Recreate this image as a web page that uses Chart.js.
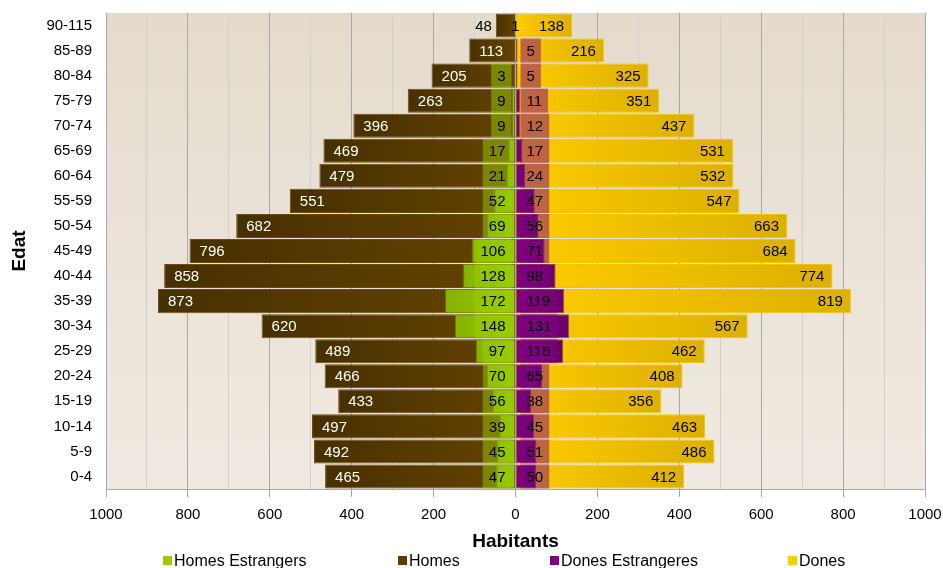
<!DOCTYPE html>
<html>
<head>
<meta charset="utf-8">
<script src="https://cdn.jsdelivr.net/npm/chart.js@4/dist/chart.umd.min.js"></script>
<style>
  html, body { margin: 0; padding: 0; background: #fff; }
  #wrap { width: 943px; height: 568px; }
</style>
</head>
<body>
<div id="wrap"><canvas id="pyramid" width="943" height="568"></canvas></div>
<script>
// grups d'edat, de dalt a baix
const ageGroups = ['90-115','85-89','80-84','75-79','70-74','65-69','60-64','55-59','50-54','45-49',
                   '40-44','35-39','30-34','25-29','20-24','15-19','10-14','5-9','0-4'];
const homes            = [48,113,205,263,396,469,479,551,682,796,858,873,620,489,466,433,497,492,465];
const homesEstrangers  = [1,0,3,9,9,17,21,52,69,106,128,172,148,97,70,56,39,45,47];
const donesEstrangeres = [0,5,5,11,12,17,24,47,56,71,98,119,131,116,65,38,45,51,50];
const dones            = [138,216,325,351,437,531,532,547,663,684,774,819,567,462,408,356,463,486,412];
const axisMax = 1000;
const axisStep = 100;

const FONT = 'Arial, "Liberation Sans", sans-serif';

function barGradient(light, dark) {
    return function(ctx) {
        const chart = ctx.chart;
        if (!chart.chartArea || ctx.type !== 'data' || !chart.scales.x) return light;
        const x = chart.scales.x;
        const x0 = x.getPixelForValue(0);
        const x1 = x.getPixelForValue(ctx.raw);
        if (Math.abs(x1 - x0) < 1) return light;
        const g = chart.ctx.createLinearGradient(x0, 0, x1, 0);
        g.addColorStop(0, light);
        g.addColorStop(1, dark);
        return g;
    };
}

const plotBackground = {
    id: 'plotBackground',
    beforeDraw(chart) {
        const { ctx, chartArea: a } = chart;
        const g = ctx.createLinearGradient(0, a.top, 0, a.bottom);
        g.addColorStop(0, '#e4dbcd');
        g.addColorStop(1, '#f0eae2');
        ctx.save();
        ctx.fillStyle = g;
        ctx.fillRect(a.left, a.top, a.right - a.left, a.bottom - a.top);
        ctx.restore();
    }
};

const barLabels = {
    id: 'barLabels',
    afterDatasetsDraw(chart) {
        const ctx = chart.ctx;
        const x = chart.scales.x, y = chart.scales.y;
        const zero = x.getPixelForValue(0);
        const bar = chart.getDatasetMeta(1).data[0];
        const h = bar ? bar.height : 23;
        ctx.save();
        ctx.font = '15px ' + FONT;
        ctx.textBaseline = 'middle';
        ageGroups.forEach((g, i) => {
            const cy = y.getPixelForValue(i);
            // homes
            const hEnd = x.getPixelForValue(-homes[i]);
            if (zero - hEnd > 40) {
                ctx.fillStyle = '#ffffff';
                ctx.textAlign = 'left';
                ctx.fillText(homes[i], hEnd + 10, cy + 1);
            } else {
                ctx.fillStyle = '#000000';
                ctx.textAlign = 'right';
                ctx.fillText(homes[i], hEnd - 4, cy + 1);
            }
            // dones
            const dEnd = x.getPixelForValue(dones[i]);
            ctx.fillStyle = '#000000';
            ctx.textAlign = 'right';
            ctx.fillText(dones[i], dEnd - 8, cy + 1);
            // homes estrangers
            if (homesEstrangers[i] > 1) {
                const t = String(homesEstrangers[i]);
                const w = ctx.measureText(t).width;
                const right = zero - 4;
                ctx.fillStyle = 'rgba(153,204,0,0.5)';
                ctx.fillRect(right - w - 12, cy - h / 2, w + 12, h);
                ctx.fillStyle = '#000000';
                ctx.textAlign = 'right';
                ctx.fillText(t, right - 6, cy + 1);
            } else if (homesEstrangers[i] > 0) {
                ctx.fillStyle = '#000000';
                ctx.textAlign = 'center';
                ctx.fillText(String(homesEstrangers[i]), zero, cy + 1);
            }
            // dones estrangeres
            if (donesEstrangeres[i] > 0) {
                const t = String(donesEstrangeres[i]);
                const w = ctx.measureText(t).width;
                const left = zero + 5;
                ctx.fillStyle = 'rgba(128,0,128,0.5)';
                ctx.fillRect(left, cy - h / 2, w + 12, h);
                ctx.fillStyle = '#000000';
                ctx.textAlign = 'left';
                ctx.fillText(t, left + 6, cy + 1);
            }
        });
        ctx.restore();
    }
};

const bottomLegend = {
    id: 'bottomLegend',
    afterDraw(chart) {
        const ctx = chart.ctx;
        const items = chart.data.datasets;
        const xs = [163, 398, 550, 788];
        const cy = 561;
        ctx.save();
        ctx.font = '16px ' + FONT;
        ctx.textBaseline = 'middle';
        ctx.textAlign = 'left';
        items.forEach((ds, i) => {
            ctx.fillStyle = ds.legendColor;
            ctx.fillRect(xs[i], cy - 5, 9, 9);
            ctx.fillStyle = '#000000';
            ctx.fillText(ds.label, xs[i] + 11, cy + 1);
        });
        ctx.restore();
    }
};

const common = { grouped: false, barPercentage: 0.96, categoryPercentage: 1, borderWidth: 1, borderSkipped: false };

new Chart(document.getElementById('pyramid'), {
    type: 'bar',
    data: {
        labels: ageGroups,
        datasets: [
            Object.assign({ label: 'Homes Estrangers', data: homesEstrangers.map(v => -v), legendColor: '#99cc00',
                backgroundColor: barGradient('#99cc00', '#86b300'), borderColor: 'rgba(120,160,0,0.6)' }, common),
            Object.assign({ label: 'Homes', data: homes.map(v => -v), legendColor: '#5c3c00',
                backgroundColor: barGradient('#664400', '#473000'), borderColor: '#6e4c0c' }, common),
            Object.assign({ label: 'Dones Estrangeres', data: donesEstrangeres, legendColor: '#800080',
                backgroundColor: barGradient('#800080', '#6a006a'), borderColor: 'rgba(100,0,100,0.6)' }, common),
            Object.assign({ label: 'Dones', data: dones, legendColor: '#ffcc00',
                backgroundColor: barGradient('#ffcc00', '#ddb000'), borderColor: '#f3c400' }, common)
        ]
    },
    options: {
        indexAxis: 'y',
        responsive: false,
        animation: false,
        layout: { padding: { left: 8, right: 18, top: 13, bottom: 15 } },
        plugins: { legend: { display: false }, tooltip: { enabled: false } },
        scales: {
            x: {
                min: -axisMax, max: axisMax,
                afterFit(scale) { scale.height = 64; scale.paddingLeft = 0; scale.paddingRight = 0; },
                ticks: {
                    stepSize: axisStep, autoSkip: false, maxRotation: 0, padding: 9,
                    color: '#000', font: { family: FONT, size: 15 },
                    callback: v => (v % 200 === 0 ? String(Math.abs(v)) : '')
                },
                grid: {
                    color: c => (c.tick && c.tick.value % 200 === 0 ? '#a8a8a8' : '#cfcfcf'),
                    tickColor: c => (c.tick && c.tick.value % 200 === 0 ? '#a8a8a8' : 'rgba(0,0,0,0)'),
                    tickLength: 8
                },
                border: { display: true, color: '#a8a8a8' },
                title: { display: true, text: 'Habitants', color: '#000', padding: 0,
                         font: { family: FONT, size: 19, weight: 'bold' } }
            },
            y: {
                afterFit(scale) { scale.width = 98; scale.paddingTop = 0; scale.paddingBottom = 0; },
                ticks: { color: '#000', padding: 14, font: { family: FONT, size: 15 } },
                grid: { display: false, drawTicks: false },
                border: { display: false },
                title: { display: true, text: 'Edat', color: '#000', padding: 0,
                         font: { family: FONT, size: 19, weight: 'bold' } }
            }
        }
    },
    plugins: [plotBackground, barLabels, bottomLegend]
});
</script>
</body>
</html>
